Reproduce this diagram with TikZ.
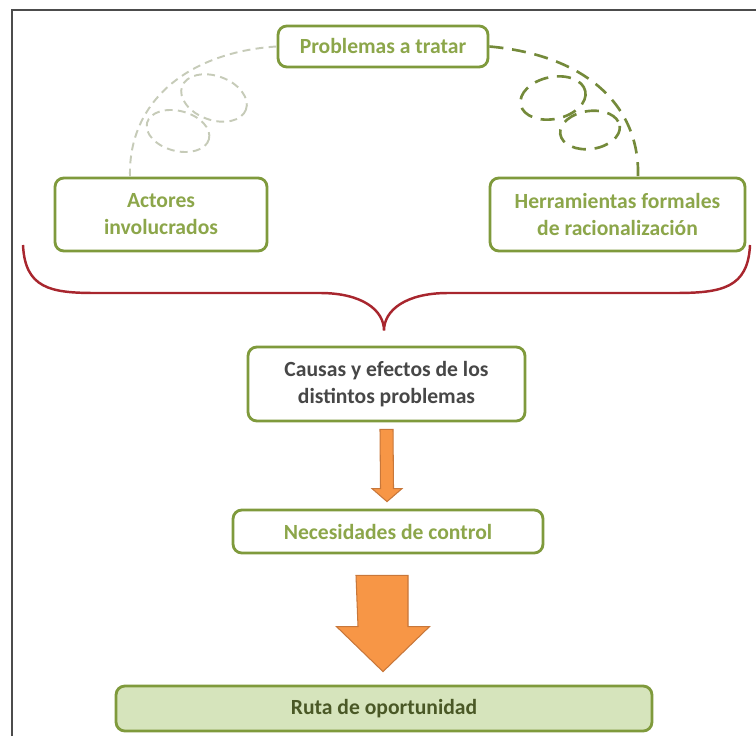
\documentclass[tikz,border=0pt]{standalone}
\usepackage{fontspec}
\setmainfont{Carlito}
\usetikzlibrary{
  calc,        % coordenadas de las flechas
  positioning  % colocacion relativa
}
\definecolor{oliva}{HTML}{7F9A3C}
\definecolor{olivatexto}{HTML}{8CA64A}
\definecolor{olivaoscuro}{HTML}{4A5826}
\definecolor{verdeclaro}{HTML}{D6E4BC}
\definecolor{naranja}{HTML}{F79646}
\definecolor{naranjaborde}{HTML}{C8773A}
\definecolor{rojollave}{HTML}{A8262E}
\definecolor{grisbucle}{HTML}{C6CBB8}
\definecolor{olivabucle}{HTML}{748A3A}
\tikzset{
  caja/.style={
    draw=oliva,
    line width=1.6pt,
    rounded corners=5pt,
    fill=white,
    align=center,
    inner sep=0pt,
    text=olivatexto,
    font=\bfseries\fontsize{12.3}{15.3}\selectfont
  },
  cajaruta/.style={
    caja,
    fill=verdeclaro,
    text=olivaoscuro
  },
  bucleizq/.style={
    draw=grisbucle,
    line width=1.1pt,
    dash pattern=on 4.5pt off 3pt
  },
  bucleder/.style={
    draw=olivabucle,
    line width=1.5pt,
    dash pattern=on 8pt off 5pt
  },
  llave/.style={
    draw=rojollave,
    line width=1.4pt
  },
  flechabloque/.style={
    fill=naranja,
    draw=naranjaborde,
    line width=0.6pt,
    line join=miter
  }
}

\begin{document}
\begin{tikzpicture}[x=0.02cm, y=-0.02cm]
    \useasboundingbox (0,0) rectangle (756,736);
    % --- marco ---
    \draw[black!70, line width=1.2pt] (12,736) -- (12,10) -- (756,10);

    % --- cajas ---
    \node[caja, minimum width=4.2cm, minimum height=0.82cm] (problemas) at (383,46.5) {Problemas a tratar};
    \node[caja, minimum width=4.24cm, minimum height=1.46cm] (actores) at (161,214.5) {Actores\\involucrados};
    \node[caja, minimum width=5.1cm, minimum height=1.46cm] (herramientas) at (617.5,214.5) {Herramientas formales\\de racionalización};
    \node[caja, text=black!72, minimum width=5.54cm, minimum height=1.48cm] (causas) at (386.5,384) {Causas y efectos de los\\distintos problemas};
    \node[caja, minimum width=6.2cm, minimum height=0.86cm] (necesidades) at (388,531.5) {Necesidades de control};
    \node[cajaruta, minimum width=10.72cm, minimum height=0.9cm] (ruta) at (384,708.5) {Ruta de oportunidad};

    % --- bucles punteados ---
    \draw[bucleizq] (actores.north -| 130,0) .. controls (128,100) and (190,52) .. (problemas.west);
    \draw[bucleizq, rotate around={-20:(214,98)}] (214,98) ellipse [x radius=34, y radius=22];
    \draw[bucleizq, rotate around={-15:(178,131)}] (178,131) ellipse [x radius=32, y radius=20];

    \draw[bucleder] (problemas.east) .. controls (585,55) and (640,105) .. (herramientas.north -| 638,0);
    \draw[bucleder, rotate around={12:(553,98)}] (553,98) ellipse [x radius=33, y radius=21];
    \draw[bucleder, rotate around={8:(590,130)}] (590,130) ellipse [x radius=30, y radius=19];

    % --- llave ---
    \coordinate (pico) at ($(causas.north)+(-2.5,-15)$);
    \draw[llave] (23,245) .. controls (25,288) and (50,293) .. (95,293)
      -- (320,293) .. controls (362,293) and (pico |- 0,310) .. (pico)
      .. controls (pico |- 0,310) and (406,293) .. (448,293)
      -- (675,293) .. controls (722,293) and (748,288) .. (750,245);

    % --- flechas ---
    \coordinate (f1a) at ($(causas.south)+(0,7)$);
    \coordinate (f1b) at ($(necesidades.north)+(-1,-7)$);
    \draw[flechabloque] ($(f1a)+(-6.5,0)$) -- ($(f1a)+(6.5,0)$) -- ($(f1b)+(6.5,-13)$)
      -- ($(f1b)+(15,-13)$) -- (f1b) -- ($(f1b)+(-15,-13)$) -- ($(f1b)+(-6.5,-13)$) -- cycle;

    \coordinate (f2a) at ($(necesidades.south)+(-6,21)$);
    \coordinate (f2b) at ($(ruta.north)+(-1,-13)$);
    \draw[flechabloque] ($(f2a)+(-26,0)$) -- ($(f2a)+(26,0)$) -- ($(f2b)+(25,-45)$)
      -- ($(f2b)+(46.5,-45)$) -- (f2b) -- ($(f2b)+(-46.5,-45)$) -- ($(f2b)+(-25,-45)$) -- cycle;
\end{tikzpicture}
\end{document}
